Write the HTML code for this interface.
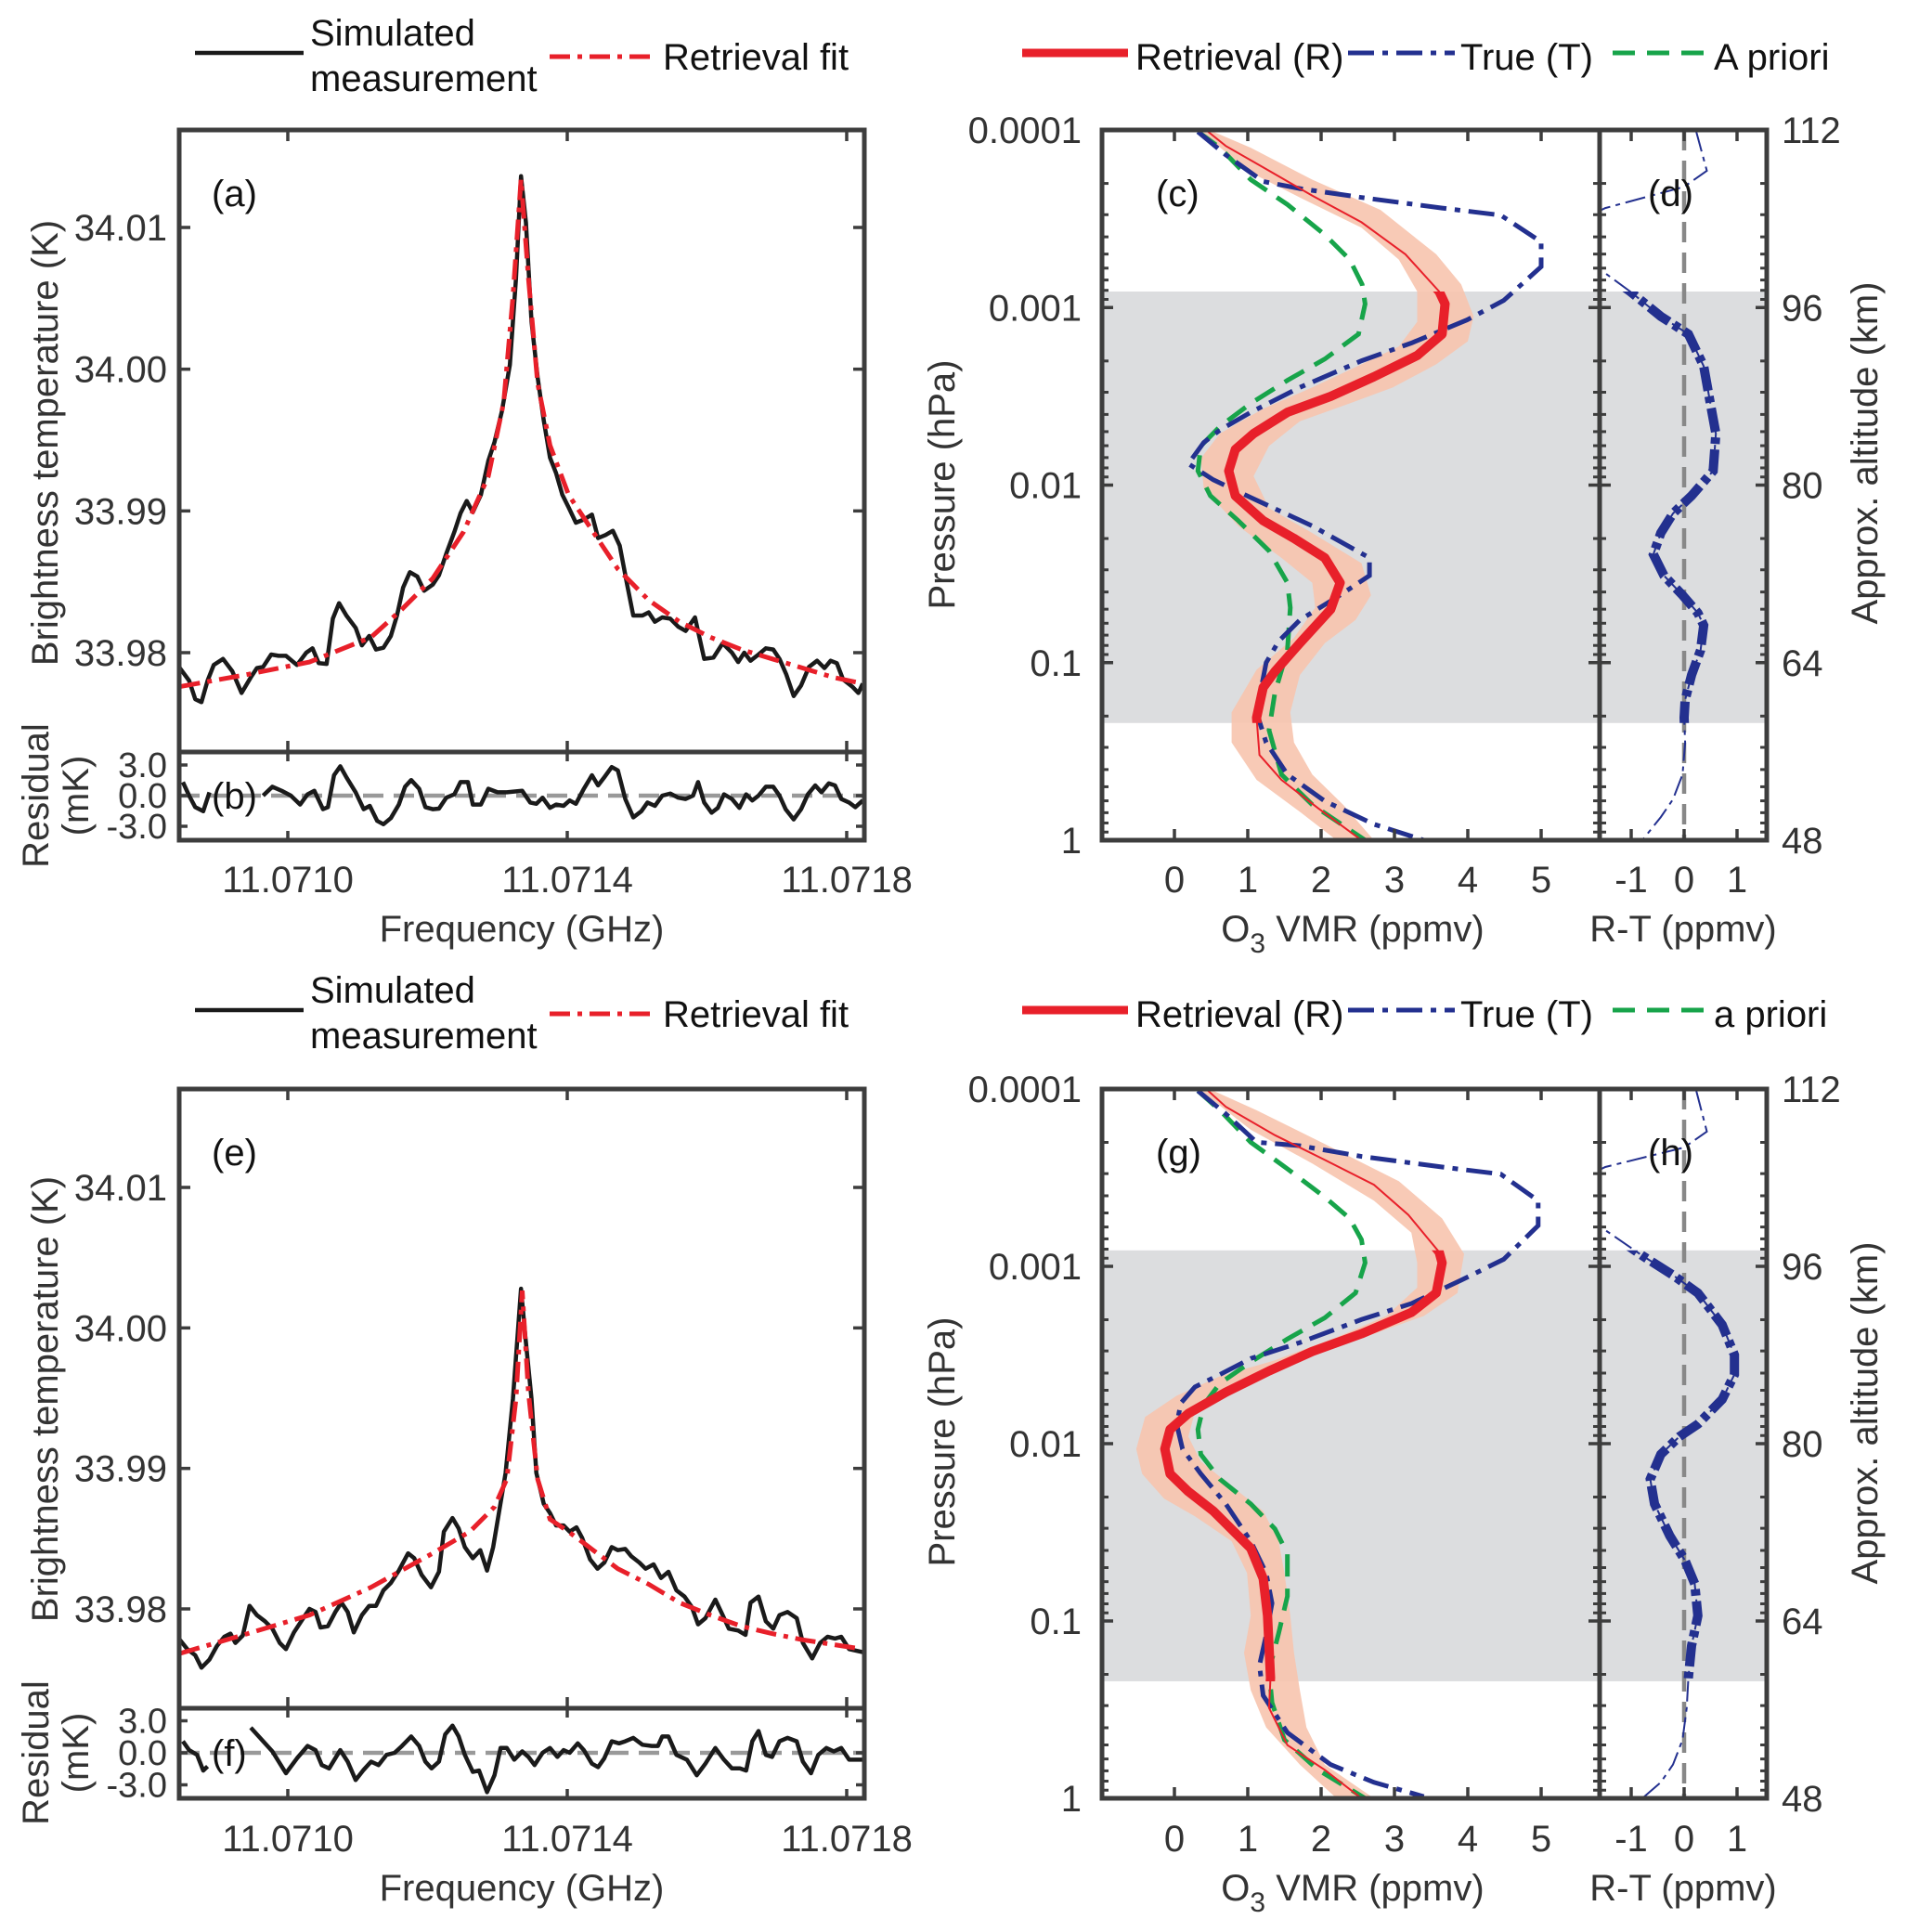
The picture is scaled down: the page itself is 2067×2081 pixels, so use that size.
<!DOCTYPE html>
<html><head><meta charset="utf-8"><style>
html,body{margin:0;padding:0;background:#fff;}
svg{display:block;font-family:"Liberation Sans",Arial,sans-serif;}
</style></head><body>
<svg id="chart" width="2067" height="2081" viewBox="0 0 2067 2081" xmlns="http://www.w3.org/2000/svg"></svg>
<script>
// ---------------- DATA ----------------
const TB_REF = 33.98;                 // K, brightness offset reference
const FREQ_BASE_GHZ = 11.0710;        // frequency offsets in kHz from this
const freqTicksKHz = [0, 400, 800];
const freqTickLabels = ['11.0710', '11.0714', '11.0718'];
const tbTicks = [33.98, 33.99, 34.00, 34.01];
const tbTickLabels = ['33.98', '33.99', '34.00', '34.01'];
const resTicks = [-3, 0, 3];
const resTickLabels = ['-3.0', '0.0', '3.0'];

// Panel (a) simulated measurement
const measA_kHz = [-154.5,-141.3,-132.5,-123.6,-114.8,-106.0,-92.7,-79.5,-66.2,-53.0,-44.2,-35.3,-23.8,-13.2,-2.6,13.2,26.5,35.3,44.2,55.6,64.5,73.3,83.9,97.1,106.0,116.6,126.3,136.9,147.5,156.3,165.1,174.8,185.4,195.1,207.5,216.3,226.9,238.4,247.2,256.1,264.9,276.4,287.0,295.8,306.4,317.9,326.7,333.8,340.8,348.8,357.6,366.4,375.3,384.1,392.9,401.8,412.4,423.8,435.3,444.1,454.7,465.3,475.1,485.7,494.5,507.7,516.6,525.4,536.0,547.5,558.9,569.5,582.8,596.0,609.3,622.5,635.8,644.6,653.4,662.3,673.7,684.3,694.9,703.8,713.5,724.1,734.7,746.1,757.6,768.2,777.0,785.9,794.7,808.0,816.8,823.0];
const measA_mK = [-1.09,-1.97,-3.28,-3.49,-1.97,-0.87,-0.44,-1.31,-2.84,-1.75,-1.09,-1.00,-0.13,-0.22,-0.22,-0.87,0,0.31,-0.74,-0.79,2.40,3.49,2.62,1.75,0.52,1.18,0.22,0.35,1.18,2.62,4.59,5.68,5.37,4.37,4.80,5.46,6.99,8.52,9.83,10.70,9.91,11.14,13.54,14.85,17.03,20.31,26.42,33.62,30.35,23.36,19.43,16.38,13.76,12.66,11.14,10.26,9.17,9.39,9.74,8.08,8.30,8.60,7.55,4.80,2.62,2.62,2.84,2.18,2.49,2.40,1.83,1.53,2.49,-0.44,-0.35,0.66,0,-0.66,0,-0.57,-0.13,0.31,0.22,-0.44,-1.53,-3.06,-2.31,-1.00,-0.57,-1.09,-0.57,-0.74,-1.88,-2.40,-2.84,-2.18];
const fitA_kHz = [-154.5,-57.4,30.9,119.2,163.3,207.5,251.6,287.0,309.1,322.3,333.8,344.4,357.6,375.3,401.8,437.1,472.4,516.6,560.7,604.9,649.0,693.2,737.3,781.5,823.0];
const fitA_mK = [-2.40,-1.53,-0.66,1.09,3.06,5.24,8.52,12.45,17.69,25.11,33.40,26.42,19.00,14.63,11.14,8.52,5.90,3.71,2.18,1.09,0.22,-0.44,-1.09,-1.75,-2.18];
// Panel (b) residual (null = gap behind label)
const resB_kHz = [-150.1,-141.3,-132.5,-121.0,-112.1,null,-35.3,-22.1,-8.8,4.4,17.7,28.3,38.0,50.3,57.4,66.2,75.1,83.9,97.1,108.6,117.4,128.0,136.9,147.5,159.0,167.8,176.6,188.1,196.9,207.5,216.3,226.9,238.4,247.2,257.8,264.9,276.4,287.0,300.2,313.5,335.5,347.0,355.8,364.7,375.3,384.1,394.7,403.5,412.4,423.8,435.3,444.1,453.0,463.6,472.4,483.0,494.5,506.0,514.8,525.4,536.0,547.5,558.9,569.5,580.1,587.2,596.0,606.6,615.5,624.3,635.8,646.4,656.1,664.9,673.7,684.3,694.9,703.8,712.6,724.1,734.7,744.4,755.0,763.8,774.4,783.2,792.1,803.5,812.4,823.0];
const resB_mK = [1.33,0,-1.13,-1.53,0.33,null,0,0.87,0.47,0,-0.87,0.13,0.47,-1.33,-1.13,2.0,2.87,1.8,0.33,-1.33,-1.0,-2.47,-2.8,-2.2,-0.87,0.87,1.53,0.67,-1.13,-1.33,-1.27,-0.2,0.13,1.33,1.33,-0.87,-0.87,0.67,0.33,0.33,0.47,-0.67,-0.8,-0.2,-1.2,-0.87,-1.0,-0.47,-0.8,0.67,2.0,1.0,1.8,2.8,2.47,-0.33,-2.13,-1.53,-0.67,-1.0,0,0.2,-0.2,-0.33,0,1.33,-0.67,-1.67,-1.2,0.13,-0.33,-1.2,0.13,-0.47,0,0.87,0.87,0,-1.33,-2.33,-1.33,0.13,1.0,0.33,1.2,1.0,-0.33,-0.67,-1.13,-0.47];

// Panel (e) simulated measurement
const measE_kHz = [-154.5,-143.9,-132.5,-123.6,-112.1,-101.5,-90.9,-82.1,-75.1,-64.5,-54.7,-44.2,-32.7,-22.1,-11.5,-2.6,8.8,22.1,30.9,39.7,46.8,57.4,68.0,76.8,85.7,94.5,106.0,116.6,126.3,136.9,147.5,159.0,172.2,181.0,191.6,204.9,216.3,223.4,235.8,244.6,253.4,264.9,275.5,285.2,294.0,302.9,311.7,322.3,333.8,340.0,348.8,355.8,366.4,375.3,384.1,394.7,403.5,413.2,421.2,432.7,443.3,453.0,463.6,472.4,483.0,491.8,503.3,512.1,523.6,534.2,544.8,556.3,567.8,578.4,587.2,597.8,611.9,622.5,631.3,644.6,655.2,662.3,673.7,684.3,694.9,703.8,715.2,728.5,737.3,750.6,762.0,772.6,783.2,792.1,803.5,823.0];
const measE_mK = [-2.20,-2.86,-3.30,-4.18,-3.61,-2.64,-1.98,-1.76,-2.42,-1.89,0.22,-0.44,-0.88,-1.41,-2.42,-2.86,-1.67,-0.66,0,-0.22,-1.32,-1.23,-0.22,0.44,-0.22,-1.67,-0.44,0.22,0.22,1.32,1.85,2.73,3.96,3.61,2.42,1.54,2.64,5.50,6.47,5.72,4.40,3.61,4.18,2.73,4.40,7.04,9.68,14.96,22.79,19.36,14.96,9.68,7.48,6.82,5.94,5.94,5.50,5.81,5.06,3.52,2.86,3.30,4.40,4.18,4.27,3.74,3.30,2.86,3.17,2.20,2.64,1.32,0.88,0.13,-1.10,-0.66,0.66,-0.44,-1.41,-1.54,-1.85,0.44,0.88,-0.88,-1.41,-0.44,-0.22,-0.66,-2.42,-3.52,-2.42,-1.98,-2.11,-1.98,-2.86,-3.08];
const fitE_kHz = [-154.5,-57.4,30.9,119.2,207.5,260.5,295.8,313.5,326.7,335.5,344.4,357.6,375.3,401.8,437.1,472.4,516.6,560.7,604.9,649.0,693.2,737.3,823.0];
const fitE_mK = [-3.17,-1.76,-0.44,1.54,3.96,5.50,7.26,9.24,14.96,22.66,15.40,9.24,6.38,5.50,4.18,2.86,1.76,0.44,-0.44,-1.23,-1.76,-2.20,-2.86];
// Panel (f) residual
const resF_kHz = [-150.1,-141.3,-129.8,-121.0,-114.8,null,-53.0,-39.7,-22.1,-2.6,13.2,28.3,39.7,48.6,59.2,75.1,85.7,97.1,108.6,119.2,129.8,141.3,152.8,163.4,176.6,188.1,196.9,205.7,216.3,225.2,235.8,244.6,253.4,264.9,273.7,285.2,295.8,304.6,313.5,324.1,335.5,344.4,353.2,364.7,375.3,385.9,394.7,403.5,415.0,423.8,435.3,444.1,453.0,463.6,474.2,483.0,494.5,507.7,521.0,529.8,536.0,544.8,556.3,571.3,585.4,597.8,611.9,624.3,635.8,647.2,656.1,664.9,673.7,684.3,693.2,703.8,715.2,728.5,737.3,748.8,759.4,770.9,781.5,792.1,803.5,823.0];
const resF_mK = [1.08,0.25,-0.19,-1.66,-1.27,null,2.36,1.40,0.13,-1.91,-0.51,0.64,0.25,-1.15,-1.46,0.25,-0.83,-2.55,-1.59,-0.83,-1.15,-0.19,0,0.64,1.53,0.64,-0.83,-1.46,-0.83,1.72,2.55,1.53,-0.19,-1.78,-1.66,-3.69,-2.10,0.45,0.45,-0.64,0.13,-0.38,-1.15,0,0.45,-0.38,0.25,0,0.89,0.25,-1.02,-1.34,-0.51,1.08,0.89,1.08,1.40,0.76,0.64,0.64,1.53,1.53,-0.19,-0.64,-2.10,-1.02,0.45,-0.64,-1.46,-1.46,-1.66,1.08,2.04,-0.19,-0.38,1.08,1.40,1.08,-0.83,-1.91,-0.19,0.45,0.13,0.45,-0.64,-0.64];

// Profiles: log10(pressure/hPa) and O3 VMR (ppmv)
const pTicksLog = [-4, -3, -2, -1, 0];
const pTickLabels = ['0.0001', '0.001', '0.01', '0.1', '1'];
const altTickLabels = ['112', '96', '80', '64', '48'];
const vmrTicks = [0, 1, 2, 3, 4, 5];
const diffTicks = [-1, 0, 1];
const validRangeLog = [-3.09, -0.66];

const trueC_logP = [-3.99,-3.86,-3.71,-3.67,-3.62,-3.56,-3.52,-3.37,-3.23,-3.04,-2.93,-2.80,-2.70,-2.55,-2.41,-2.31,-2.24,-2.12,-2.03,-1.93,-1.77,-1.59,-1.49,-1.37,-1.24,-1.12,-1.00,-0.72,-0.55,-0.37,-0.22,-0.09,0.0];
const trueC_vmr = [0.32,0.70,1.21,1.71,2.55,3.65,4.45,5.0,5.0,4.49,3.99,3.23,2.55,1.71,1.04,0.62,0.40,0.19,0.53,1.04,1.88,2.66,2.66,2.22,1.71,1.42,1.25,1.12,1.25,1.54,2.05,2.72,3.40];
const retC_logP = [-3.99,-3.91,-3.79,-3.63,-3.48,-3.30,-3.09,-3.02,-2.85,-2.73,-2.61,-2.50,-2.41,-2.29,-2.20,-2.08,-1.94,-1.80,-1.70,-1.59,-1.45,-1.30,-1.11,-0.95,-0.86,-0.69,-0.48,-0.34,-0.18,0.0];
const retC_vmr = [0.46,0.70,1.21,1.88,2.55,3.15,3.61,3.69,3.65,3.31,2.72,2.13,1.54,1.08,0.83,0.74,0.83,1.21,1.63,2.05,2.26,2.13,1.71,1.37,1.21,1.12,1.16,1.46,1.96,2.55];
const errLoC_logP = [-3.99,-3.76,-3.62,-3.45,-3.27,-3.09,-2.92,-2.78,-2.68,-2.55,-2.43,-2.29,-2.15,-1.98,-1.77,-1.59,-1.45,-1.31,-1.14,-0.96,-0.72,-0.55,-0.34,-0.16,0];
const errLoC_vmr = [0.36,1.04,1.71,2.55,3.06,3.31,3.31,3.06,2.55,1.88,1.21,0.62,0.36,0.40,0.87,1.46,1.88,1.92,1.63,1.12,0.78,0.78,1.12,1.71,2.21];
const errHiC_logP = [-3.99,-3.90,-3.72,-3.55,-3.30,-3.13,-2.95,-2.81,-2.68,-2.55,-2.46,-2.36,-2.22,-2.05,-1.87,-1.73,-1.56,-1.38,-1.24,-1.11,-0.93,-0.72,-0.55,-0.37,-0.20,0];
const errHiC_vmr = [0.53,1.04,1.88,2.81,3.57,3.91,4.08,4.00,3.57,2.98,2.39,1.71,1.29,1.08,1.29,1.88,2.55,2.68,2.47,2.05,1.71,1.58,1.63,1.88,2.30,2.72];
const aprC_logP = [-3.99,-3.90,-3.72,-3.58,-3.41,-3.27,-3.13,-3.02,-2.85,-2.71,-2.59,-2.46,-2.33,-2.22,-2.08,-1.94,-1.80,-1.63,-1.45,-1.31,-1.07,-0.83,-0.62,-0.37,-0.20,0];
const aprC_vmr = [0.32,0.62,1.04,1.54,2.05,2.39,2.56,2.60,2.51,2.05,1.54,1.04,0.62,0.36,0.32,0.49,0.87,1.29,1.54,1.58,1.54,1.37,1.29,1.46,1.88,2.60];
const diffD_logP = [-3.99,-3.77,-3.68,-3.56,-3.41,-3.18,-3.09,-2.95,-2.85,-2.67,-2.47,-2.29,-2.08,-1.94,-1.84,-1.73,-1.61,-1.49,-1.38,-1.28,-1.21,-1.07,-0.93,-0.79,-0.69,-0.55,-0.37,-0.23,-0.13,0];
const diffD_vmr = [0.23,0.43,0,-1.49,-2.53,-1.43,-1.02,-0.44,0.08,0.37,0.49,0.60,0.55,0.14,-0.21,-0.44,-0.58,-0.38,-0.03,0.26,0.37,0.31,0.14,0.02,0,0.02,-0.03,-0.21,-0.44,-0.79];

const trueG_logP = [-3.99,-3.86,-3.70,-3.68,-3.62,-3.56,-3.52,-3.37,-3.23,-3.04,-2.92,-2.79,-2.70,-2.57,-2.48,-2.39,-2.32,-2.23,-2.11,-1.97,-1.83,-1.66,-1.45,-1.27,-1.10,-0.92,-0.75,-0.58,-0.37,-0.19,-0.09,-0.01];
const trueG_vmr = [0.32,0.70,1.12,1.71,2.55,3.65,4.45,4.96,4.96,4.49,3.90,3.23,2.55,1.71,1.04,0.62,0.28,0.09,0.03,0.11,0.36,0.70,1.04,1.25,1.33,1.25,1.16,1.21,1.54,2.13,2.72,3.40];
const retG_logP = [-3.99,-3.90,-3.74,-3.60,-3.46,-3.29,-3.08,-3.02,-2.85,-2.74,-2.62,-2.52,-2.41,-2.29,-2.17,-2.08,-1.97,-1.83,-1.73,-1.62,-1.41,-1.24,-1.03,-0.68,-0.51,-0.30,-0.16,0];
const retG_vmr = [0.46,0.70,1.37,2.05,2.72,3.19,3.61,3.65,3.57,3.23,2.55,1.88,1.29,0.70,0.19,-0.06,-0.13,-0.06,0.19,0.53,1.04,1.21,1.27,1.31,1.29,1.54,2.05,2.55];
const errLoG_logP = [-3.99,-3.77,-3.58,-3.37,-3.19,-3.02,-2.88,-2.72,-2.60,-2.47,-2.38,-2.27,-2.15,-1.97,-1.83,-1.69,-1.59,-1.45,-1.27,-1.03,-0.82,-0.61,-0.40,-0.19,0];
const errLoG_vmr = [0.36,1.04,1.88,2.72,3.23,3.31,3.31,2.89,2.21,1.37,0.62,0.03,-0.40,-0.52,-0.44,-0.14,0.28,0.78,0.99,1.04,0.95,1.04,1.25,1.71,2.21];
const errHiG_logP = [-3.99,-3.88,-3.69,-3.48,-3.27,-3.07,-2.85,-2.72,-2.62,-2.52,-2.41,-2.31,-2.18,-2.04,-1.90,-1.76,-1.62,-1.45,-1.27,-1.03,-0.82,-0.61,-0.40,-0.19,0];
const errHiG_vmr = [0.53,1.12,2.05,3.06,3.65,3.95,3.86,3.40,2.72,1.96,1.29,0.70,0.28,0.19,0.36,0.78,1.21,1.42,1.50,1.58,1.63,1.71,1.80,2.05,2.72];
const aprG_logP = [-3.99,-3.88,-3.70,-3.55,-3.39,-3.27,-3.15,-3.02,-2.85,-2.71,-2.59,-2.46,-2.34,-2.22,-2.08,-1.94,-1.80,-1.66,-1.52,-1.38,-1.14,-0.93,-0.72,-0.54,-0.33,-0.16,0];
const aprG_vmr = [0.32,0.62,1.04,1.54,2.05,2.39,2.55,2.60,2.47,2.05,1.54,1.04,0.62,0.40,0.32,0.36,0.62,1.04,1.37,1.54,1.54,1.42,1.29,1.33,1.50,1.96,2.60];
const diffH_logP = [-3.99,-3.76,-3.67,-3.56,-3.41,-3.18,-3.06,-2.95,-2.85,-2.67,-2.50,-2.39,-2.25,-2.11,-2.04,-1.94,-1.80,-1.66,-1.48,-1.34,-1.21,-1.03,-0.86,-0.68,-0.51,-0.33,-0.19,-0.09,0];
const diffH_vmr = [0.23,0.43,0,-1.49,-2.53,-1.37,-0.79,-0.21,0.26,0.72,0.95,0.95,0.72,0.26,-0.09,-0.44,-0.64,-0.56,-0.27,0.02,0.20,0.26,0.14,0.08,0.05,-0.03,-0.21,-0.44,-0.79];

// ---------------- DRAWING ----------------
const NS = 'http://www.w3.org/2000/svg';
const svg = document.getElementById('chart');
const AX = '#3d3d3d', TXT = '#333333';
const FS = 40;
function el(tag, attrs, name, parent) {
  const e = document.createElementNS(NS, tag);
  for (const k in attrs) e.setAttribute(k, attrs[k]);
  
  
  (parent || svg).appendChild(e);
  return e;
}
function txt(x, y, s, name, o) {
  o = o || {};
  const t = el('text', {x: x, y: y, 'font-size': o.size || FS, fill: o.fill || TXT, 'text-anchor': o.anchor || 'start'}, name, o.parent);
  if (o.rot) t.setAttribute('transform', 'rotate(-90 ' + x + ' ' + y + ')');
  t.textContent = s;
  return t;
}
function pathD(xs, ys, fx, fy) {
  let d = '', pen = false;
  for (let i = 0; i < xs.length; i++) {
    if (xs[i] === null || ys[i] === null) { pen = false; continue; }
    d += (pen ? 'L' : 'M') + fx(xs[i]).toFixed(1) + ' ' + fy(ys[i]).toFixed(1);
    pen = true;
  }
  return d;
}
let clipN = 0;
function clipRect(x, y, w, h) {
  const id = 'clip' + (clipN++);
  const cp = el('clipPath', {id: id}, 'clip-region');
  el('rect', {x: x, y: y, width: w, height: h}, 'clip-rect', cp);
  return 'url(#' + id + ')';
}
function line(x1, y1, x2, y2, name, w, c) {
  return el('line', {x1: x1, y1: y1, x2: x2, y2: y2, stroke: c || AX, 'stroke-width': w || 3.5}, name);
}

// ---- Spectrum panel ----
function specPanel(P, mk, mv, fk, fv, rk, rv, tagMain, tagRes) {
  const L = 193, R = 931;
  const X = k => 310 + k * 0.7525;
  const Y = t => P.t0 - (t - 33.98) / 0.03 * (P.t0 - P.t1);
  const YR = r => P.r0 - r * P.rs;
  const clipMain = clipRect(L, P.top, R - L, P.mid - P.top);
  const clipRes = clipRect(L, P.mid, R - L, P.bot - P.mid);
  el('line', {x1: L, y1: YR(0), x2: R, y2: YR(0), stroke: '#999', 'stroke-width': 4.5, 'stroke-dasharray': '22 11'}, 'residual-zero-line');
  el('path', {d: pathD(mk, mv.map(v => TB_REF + v / 1000), X, Y), fill: 'none', stroke: '#1a1a1a', 'stroke-width': 4.5, 'stroke-linejoin': 'round', 'clip-path': clipMain}, 'simulated-measurement-line');
  el('path', {d: pathD(fk, fv.map(v => TB_REF + v / 1000), X, Y), fill: 'none', stroke: '#e8202a', 'stroke-width': 5, 'stroke-dasharray': '22 8 5 8', 'clip-path': clipMain}, 'retrieval-fit-line');
  el('path', {d: pathD(rk, rv, X, YR), fill: 'none', stroke: '#1a1a1a', 'stroke-width': 4.5, 'stroke-linejoin': 'round', 'clip-path': clipRes}, 'residual-line');
  el('rect', {x: L, y: P.top, width: R - L, height: P.bot - P.top, fill: 'none', stroke: AX, 'stroke-width': 5}, 'spectrum-axes-box');
  line(L, P.mid, R, P.mid, 'residual-divider', 5);
  freqTicksKHz.forEach((k, i) => {
    const x = X(k);
    line(x, P.top, x, P.top + 12, 'x-tick-top');
    line(x, P.mid, x, P.mid - 12, 'x-tick-mid');
    line(x, P.mid, x, P.mid + 10, 'x-tick-res-top');
    line(x, P.bot, x, P.bot - 10, 'x-tick-bottom');
    txt(x, P.xl, freqTickLabels[i], 'x-tick-label', {anchor: 'middle'});
  });
  tbTicks.forEach((t, i) => {
    const y = Y(t);
    line(L, y, L + 12, y, 'y-tick-left');
    line(R, y, R - 12, y, 'y-tick-right');
    txt(180, y + 14, tbTickLabels[i], 'y-tick-label', {anchor: 'end'});
  });
  resTicks.forEach((r, i) => {
    const y = YR(r);
    line(L, y, L + 9, y, 'res-tick-left');
    line(R, y, R - 9, y, 'res-tick-right');
    txt(180, y + 13, resTickLabels[i], 'residual-tick-label', {anchor: 'end', size: 38});
  });
  txt(228, P.top + 82, tagMain, 'panel-label', {fill: '#111'});
  txt(228, YR(0) + 14, tagRes, 'panel-label', {fill: '#111'});
  txt(562, P.xt, 'Frequency (GHz)', 'x-axis-title', {anchor: 'middle'});
  txt(62, P.yc, 'Brightness temperature (K)', 'y-axis-title', {anchor: 'middle', rot: true});
  txt(52, YR(0), 'Residual', 'residual-axis-title', {anchor: 'middle', rot: true});
  txt(95, YR(0), '(mK)', 'residual-axis-unit', {anchor: 'middle', rot: true});
  const ly = P.leg;
  line(210, ly, 327, ly, 'legend-measurement-swatch', 4.5, '#1a1a1a');
  txt(334, ly - 8, 'Simulated', 'legend-measurement-label', {fill: '#111'});
  txt(334, ly + 41, 'measurement', 'legend-measurement-label-2', {fill: '#111'});
  el('line', {x1: 592, y1: ly + 4, x2: 708, y2: ly + 4, stroke: '#e8202a', 'stroke-width': 5, 'stroke-dasharray': '22 8 5 8'}, 'legend-fit-swatch');
  txt(714, ly + 18, 'Retrieval fit', 'legend-fit-label', {fill: '#111'});
}

// ---- Profile panel ----
function profPanel(P, d, tags, aprName) {
  const L = 1187, M = 1723, R = 1903;
  const X = v => 1265 + v * 79;
  const XD = v => 1814 + v * 57;
  const Y = lp => P.top + (lp + 4) * (P.bot - P.top) / 4;
  const clipC = clipRect(L, P.top, M - L, P.bot - P.top);
  const clipD = clipRect(M, P.top, R - M, P.bot - P.top);
  const yb0 = Y(validRangeLog[0]), yb1 = Y(validRangeLog[1]);
  const bandClipC = clipRect(L, yb0, M - L, yb1 - yb0);
  const bandClipD = clipRect(M, yb0, R - M, yb1 - yb0);
  el('rect', {x: L, y: yb0, width: R - L, height: yb1 - yb0, fill: '#dcdddf'}, 'measurement-sensitivity-band');
  let env = pathD(d.loV, d.loP, X, Y);
  const hiRev = pathD(d.hiV.slice().reverse(), d.hiP.slice().reverse(), X, Y).replace(/^M/, 'L');
  el('path', {d: env + hiRev + 'Z', fill: '#f7c4ae', opacity: 0.9, 'clip-path': clipC}, 'retrieval-error-envelope');
  el('path', {d: pathD(d.aV, d.aP, X, Y), fill: 'none', stroke: '#17a44a', 'stroke-width': 5, 'stroke-dasharray': '24 13', 'clip-path': clipC}, 'a-priori-profile');
  el('path', {d: pathD(d.tV, d.tP, X, Y), fill: 'none', stroke: '#23308f', 'stroke-width': 5, 'stroke-dasharray': '28 9 6 9', 'clip-path': clipC}, 'true-profile');
  el('path', {d: pathD(d.rV, d.rP, X, Y), fill: 'none', stroke: '#e8202a', 'stroke-width': 2, 'clip-path': clipC}, 'retrieval-profile-thin');
  const g = el('g', {'clip-path': bandClipC}, 'retrieval-thick-group');
  el('path', {d: pathD(d.rV, d.rP, X, Y), fill: 'none', stroke: '#e8202a', 'stroke-width': 10, 'stroke-linejoin': 'round'}, 'retrieval-profile-thick', g);
  el('line', {x1: XD(0), y1: P.top, x2: XD(0), y2: P.bot, stroke: '#888', 'stroke-width': 4.5, 'stroke-dasharray': '22 11'}, 'zero-difference-line');
  el('path', {d: pathD(d.dV, d.dP, XD, Y), fill: 'none', stroke: '#23308f', 'stroke-width': 2, 'stroke-dasharray': '22 6 5 6', 'clip-path': clipD}, 'difference-profile-thin');
  const g2 = el('g', {'clip-path': bandClipD}, 'difference-thick-group');
  el('path', {d: pathD(d.dV, d.dP, XD, Y), fill: 'none', stroke: '#23308f', 'stroke-width': 10, 'stroke-dasharray': '26 6 7 6'}, 'difference-profile-thick', g2);
  el('rect', {x: L, y: P.top, width: R - L, height: P.bot - P.top, fill: 'none', stroke: AX, 'stroke-width': 5}, 'profile-axes-box');
  line(M, P.top, M, P.bot, 'profile-divider', 5);
  pTicksLog.forEach((lp, i) => {
    const y = Y(lp);
    [[L, 1], [M, -1], [M, 1], [R, -1]].forEach(s => line(s[0], y, s[0] + s[1] * 12, y, 'pressure-major-tick'));
    txt(1165, y + 14, pTickLabels[i], 'pressure-tick-label', {anchor: 'end'});
    txt(1919, y + 14, altTickLabels[i], 'altitude-tick-label');
    if (lp < 0) for (let m = 2; m <= 9; m++) {
      const ym = Y(lp + Math.log10(m));
      [[L, 1], [M, -1], [M, 1], [R, -1]].forEach(s => line(s[0], ym, s[0] + s[1] * 7, ym, 'pressure-minor-tick', 3));
    }
  });
  vmrTicks.forEach(v => {
    const x = X(v);
    line(x, P.top, x, P.top + 12, 'vmr-tick-top');
    line(x, P.bot, x, P.bot - 12, 'vmr-tick-bottom');
    txt(x, P.xl, String(v), 'vmr-tick-label', {anchor: 'middle'});
  });
  diffTicks.forEach(v => {
    const x = XD(v);
    line(x, P.top, x, P.top + 12, 'diff-tick-top');
    line(x, P.bot, x, P.bot - 12, 'diff-tick-bottom');
    txt(x, P.xl, String(v), 'diff-tick-label', {anchor: 'middle'});
  });
  txt(1245, P.top + 82, tags[0], 'panel-label', {fill: '#111'});
  txt(1775, P.top + 82, tags[1], 'panel-label', {fill: '#111'});
  const t = txt(1457, P.xt, 'O', 'x-axis-title', {anchor: 'middle'});
  const s1 = document.createElementNS(NS, 'tspan'); s1.setAttribute('font-size', 30); s1.setAttribute('dy', 12); s1.textContent = '3';
  
  
  const s2 = document.createElementNS(NS, 'tspan'); s2.setAttribute('dy', -12); s2.textContent = ' VMR (ppmv)';
  
  
  t.appendChild(s1); t.appendChild(s2);
  txt(1813, P.xt, 'R-T (ppmv)', 'diff-axis-title', {anchor: 'middle'});
  txt(1028, P.yc, 'Pressure (hPa)', 'pressure-axis-title', {anchor: 'middle', rot: true});
  txt(2022, P.yc2, 'Approx. altitude (km)', 'altitude-axis-title', {anchor: 'middle', rot: true});
  const ly = P.leg;
  line(1101, ly, 1215, ly, 'legend-retrieval-swatch', 9, '#e8202a');
  txt(1223, ly + 18, 'Retrieval (R)', 'legend-retrieval-label', {fill: '#111'});
  el('line', {x1: 1452, y1: ly, x2: 1567, y2: ly, stroke: '#23308f', 'stroke-width': 5, 'stroke-dasharray': '28 9 6 9'}, 'legend-true-swatch');
  txt(1573, ly + 18, 'True (T)', 'legend-true-label', {fill: '#111'});
  el('line', {x1: 1737, y1: ly, x2: 1841, y2: ly, stroke: '#17a44a', 'stroke-width': 5, 'stroke-dasharray': '24 13'}, 'legend-apriori-swatch');
  txt(1846, ly + 18, aprName, 'legend-apriori-label', {fill: '#111'});
}

specPanel({top: 140, mid: 810, bot: 905, t0: 703, t1: 245, r0: 857, rs: 11, xl: 961, xt: 1014, yc: 477, leg: 57},
  measA_kHz, measA_mK, fitA_kHz, fitA_mK, resB_kHz, resB_mK, '(a)', '(b)');
specPanel({top: 1173, mid: 1840, bot: 1937, t0: 1733, t1: 1279, r0: 1888, rs: 11.5, xl: 1994, xt: 2047, yc: 1507, leg: 1088},
  measE_kHz, measE_mK, fitE_kHz, fitE_mK, resF_kHz, resF_mK, '(e)', '(f)');
profPanel({top: 140, bot: 905, xl: 961, xt: 1014, yc: 522, yc2: 488, leg: 57},
  {tP: trueC_logP, tV: trueC_vmr, rP: retC_logP, rV: retC_vmr, loP: errLoC_logP, loV: errLoC_vmr, hiP: errHiC_logP, hiV: errHiC_vmr, aP: aprC_logP, aV: aprC_vmr, dP: diffD_logP, dV: diffD_vmr},
  ['(c)', '(d)'], 'A priori');
profPanel({top: 1173, bot: 1937, xl: 1994, xt: 2047, yc: 1553, yc2: 1522, leg: 1088},
  {tP: trueG_logP, tV: trueG_vmr, rP: retG_logP, rV: retG_vmr, loP: errLoG_logP, loV: errLoG_vmr, hiP: errHiG_logP, hiV: errHiG_vmr, aP: aprG_logP, aV: aprG_vmr, dP: diffH_logP, dV: diffH_vmr},
  ['(g)', '(h)'], 'a priori');
</script>
</body></html>
